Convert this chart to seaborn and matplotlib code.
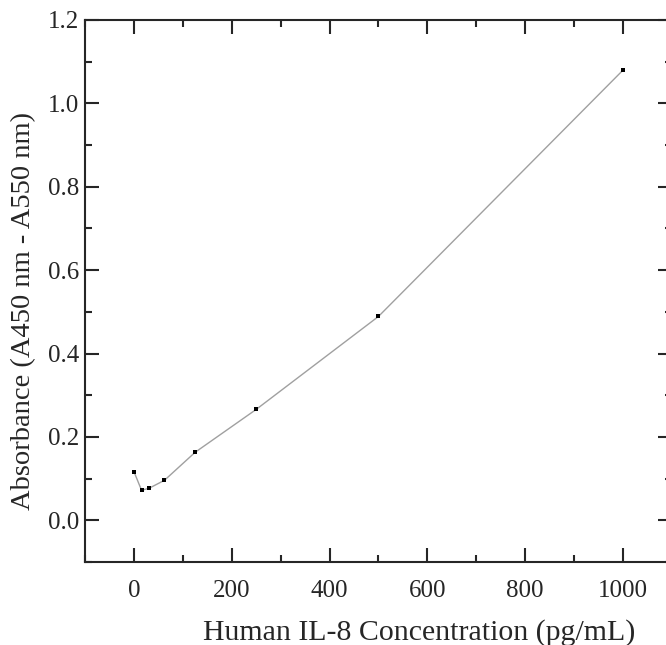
import matplotlib
matplotlib.use("Agg")
import matplotlib.pyplot as plt
from matplotlib.ticker import MultipleLocator
import seaborn as sns
import pandas as pd

concentration = [0, 15.6, 31.25, 62.5, 125, 250, 500, 1000]
absorbance = [0.117, 0.072, 0.077, 0.096, 0.163, 0.266, 0.489, 1.080]
x_ticks = [0, 200, 400, 600, 800, 1000]
x_tick_labels = ["0", "200", "400", "600", "800", "1000"]
y_ticks = [0.0, 0.2, 0.4, 0.6, 0.8, 1.0, 1.2]
y_tick_labels = ["0.0", "0.2", "0.4", "0.6", "0.8", "1.0", "1.2"]

sns.set_style("ticks")
plt.rcParams['font.family'] = ['Liberation Serif', 'DejaVu Serif']

df = pd.DataFrame({"x": concentration, "y": absorbance})

fig = plt.figure(figsize=(6.66, 6.45), dpi=100)
ax = fig.add_axes([85/666, 83/645, (672-85)/666, (562-20)/645])

sns.lineplot(data=df, x="x", y="y", ax=ax, color="#a0a0a0", linewidth=1.0, zorder=1)
sns.scatterplot(data=df, x="x", y="y", ax=ax, color="black", marker="s", s=11,
                edgecolor="black", linewidth=0, zorder=2)

ax.set_xlim(-100, 1100)
ax.set_ylim(-0.1, 1.2)
ax.set_xticks(x_ticks)
ax.set_xticklabels(x_tick_labels)
ax.set_yticks(y_ticks)
ax.set_yticklabels(y_tick_labels)
ax.xaxis.set_minor_locator(MultipleLocator(100))
ax.yaxis.set_minor_locator(MultipleLocator(0.1))

ax.tick_params(which="both", direction="in", top=True, right=True, width=1.5, labelsize=18)
ax.tick_params(axis="x", which="major", pad=13)
ax.tick_params(axis="y", which="major", pad=4)
ax.tick_params(which="major", length=10)
ax.tick_params(which="minor", length=5)
for sp in ax.spines.values():
    sp.set_linewidth(1.5)

ax.set_xlabel("Human IL-8 Concentration (pg/mL)", fontsize=21.5)
ax.set_ylabel("Absorbance (A450 nm - A550 nm)", fontsize=20.5)
ax.xaxis.set_label_coords(0.569, -0.106)
ax.yaxis.set_label_coords(-0.0835, 0.463)

fig.savefig("out.png", dpi=100)
